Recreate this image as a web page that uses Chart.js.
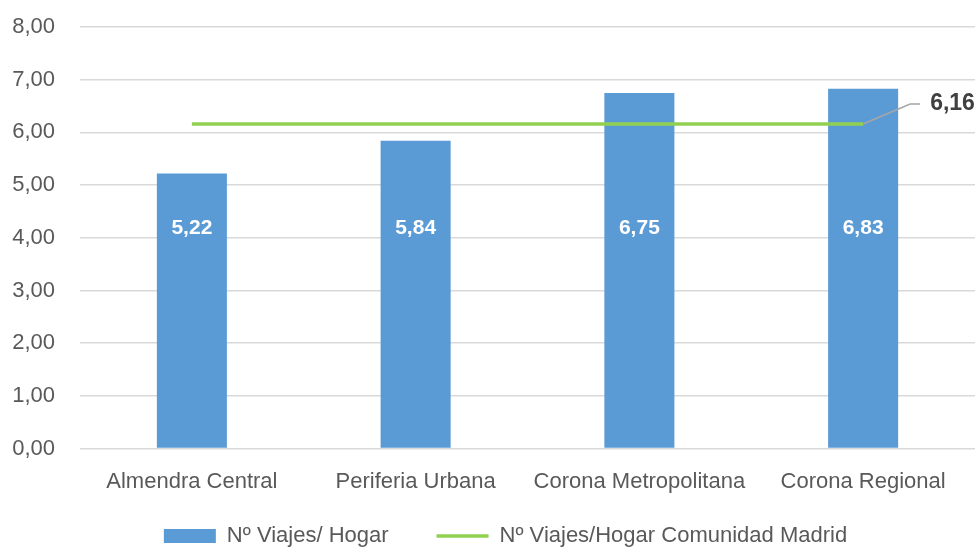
<!DOCTYPE html>
<html>
<head>
<meta charset="utf-8">
<script src="https://cdn.jsdelivr.net/npm/chart.js@4"></script>
<style>
  html, body { margin: 0; padding: 0; background: #fff; overflow: hidden; }
  #wrap { width: 976px; height: 587px; }
</style>
</head>
<body>
<div id="wrap"><canvas id="viajes"></canvas></div>
<script>
var categories = ['Almendra Central', 'Periferia Urbana', 'Corona Metropolitana', 'Corona Regional'];
var viajesHogar = [5.22, 5.84, 6.75, 6.83];
var mediaMadrid = [6.16, 6.16, 6.16, 6.16];
var yTicks = [0, 1, 2, 3, 4, 5, 6, 7, 8];

function fmt(v) {
    return v.toFixed(2).replace('.', ',');
}

Chart.defaults.font.family = 'Liberation Sans';
Chart.defaults.font.size = 22;
Chart.defaults.color = '#595959';

// etiquetas blancas dentro de las barras + etiqueta 6,16 con linea guia
var etiquetas = {
    id: 'etiquetas',
    afterLayout: function (chart) {
        // leyenda algo desplazada a la derecha y pegada al eje
        var lg = chart.legend;
        var h = lg.bottom - lg.top;
        lg.left += 18;
        lg.right += 18;
        lg.top = 477;
        lg.bottom = lg.top + h;
    },
    afterDatasetsDraw: function (chart) {
        var ctx = chart.ctx;
        var y = chart.scales.y;
        var bars = chart.getDatasetMeta(0).data;
        ctx.save();
        ctx.font = 'bold 21px "Liberation Sans"';
        ctx.fillStyle = '#ffffff';
        ctx.textAlign = 'center';
        ctx.textBaseline = 'middle';
        bars.forEach(function (bar, i) {
            ctx.fillText(fmt(viajesHogar[i]), bar.x, y.getPixelForValue(4.18));
        });

        var pts = chart.getDatasetMeta(1).data;
        var last = pts[pts.length - 1];
        ctx.strokeStyle = '#a6a6a6';
        ctx.lineWidth = 1.5;
        ctx.beginPath();
        ctx.moveTo(last.x, last.y);
        ctx.lineTo(last.x + 47, last.y - 20);
        ctx.lineTo(last.x + 57, last.y - 20);
        ctx.stroke();
        ctx.font = 'bold 23px "Liberation Sans"';
        ctx.fillStyle = '#404040';
        ctx.textAlign = 'left';
        ctx.fillText(fmt(mediaMadrid[mediaMadrid.length - 1]), last.x + 67, last.y - 20);
        ctx.restore();
    }
};

var ctx = document.getElementById('viajes');
var myChart = new Chart(ctx, {
    plugins: [etiquetas],
    data: {
        labels: categories,
        datasets: [
            {
                type: 'bar',
                label: 'Nº Viajes/ Hogar',
                data: viajesHogar,
                backgroundColor: '#5b9bd5',
                borderWidth: 0,
                pointStyle: 'rect',
                categoryPercentage: 1,
                barPercentage: 0.313,
                order: 1,
            },
            {
                type: 'line',
                label: 'Nº Viajes/Hogar Comunidad Madrid',
                data: mediaMadrid,
                borderColor: '#92d050',
                backgroundColor: '#92d050',
                borderWidth: 3.5,
                pointRadius: 0,
                pointStyle: 'line',
                order: 0,
            }
        ]
    },
    options: {
        responsive: true,
        maintainAspectRatio: false,
        animation: false,
        layout: {
            padding: { left: 0, right: 1, top: 27, bottom: 0 },
        },
        plugins: {
            tooltip: { enabled: false },
            legend: {
                position: 'bottom',
                labels: {
                    usePointStyle: true,
                    pointStyleWidth: 52,
                    boxHeight: 14,
                    padding: 48,
                    color: '#595959',
                    sort: function (a, b) { return a.datasetIndex - b.datasetIndex; },
                },
            },
        },
        scales: {
            x: {
                grid: { display: false },
                border: { display: false },
                ticks: { maxRotation: 0, padding: 12 },
            },
            y: {
                min: 0,
                max: 8,
                afterFit: function (scale) {
                    scale.width = 80;
                    scale.paddingTop = 0;
                    scale.paddingBottom = 0;
                },
                afterBuildTicks: function (scale) {
                    scale.ticks = yTicks.map(function (v) { return { value: v }; });
                },
                ticks: {
                    padding: 25,
                    callback: function (value) { return fmt(value); },
                },
                border: { display: false },
                grid: {
                    color: '#d9d9d9',
                    lineWidth: 1.5,
                    drawTicks: false,
                },
            },
        },
    },
});
</script>
</body>
</html>
